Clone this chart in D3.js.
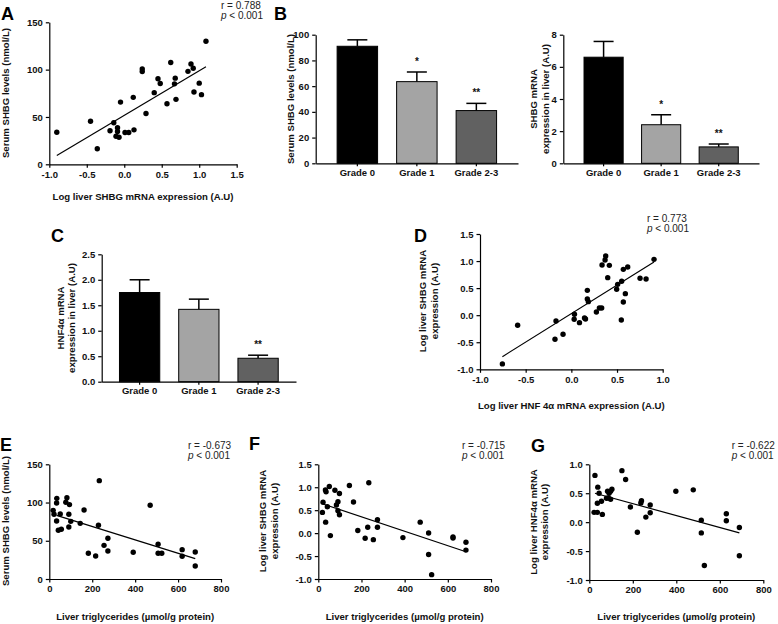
<!DOCTYPE html>
<html>
<head>
<meta charset="utf-8">
<script src="https://cdn.jsdelivr.net/npm/d3@7"></script>
<style>
 body { margin: 0; background: #fff; }
 svg { display: block; font-family: 'Liberation Sans', Arial, sans-serif; }
 .axis path, .axis line { stroke: #000; stroke-width: 1.2; }
 .axis text { font-size: 9.5px; font-weight: bold; fill: #111; }
 .title { font-size: 9.6px; font-weight: bold; fill: #111; }
 .letter { font-size: 18px; font-weight: bold; fill: #000; }
 .stat { font-size: 10px; fill: #222; }
</style>
</head>
<body>
<svg id="fig" width="778" height="624"></svg>
<script>
// ---- data ----
var gradeNames = ['Grade 0', 'Grade 1', 'Grade 2-3'];
var gradeColors = ['#000000', '#a4a4a4', '#616161'];

// B left: serum SHBG by grade
var serumShbgMean = [91, 63.5, 41];
var serumShbgErr = [5, 7.5, 5.6];
var serumShbgStars = ['', '*', '**'];
// B right: liver SHBG mRNA by grade
var shbgMrnaMean = [6.6, 2.4, 1.02];
var shbgMrnaErr = [0.98, 0.62, 0.18];
var shbgMrnaStars = ['', '*', '**'];
// C: liver HNF4a mRNA by grade
var hnfMrnaMean = [1.75, 1.42, 0.46];
var hnfMrnaErr = [0.25, 0.2, 0.06];
var hnfMrnaStars = ['', '', '**'];

// A: log liver SHBG mRNA vs serum SHBG
var pointsA = [[-0.90,33.9],[-0.45,45.4],[-0.36,16.4],[-0.19,35.4],[-0.14,43.9],[-0.09,38.6],[-0.09,34.6],[-0.11,29.6],
 [-0.07,28.6],[-0.05,65.7],[0.01,33.6],[0.06,33.6],[0.13,36.4],[0.12,70.7],[0.24,100.7],[0.24,97.9],[0.29,53.6],
 [0.40,75.7],[0.45,90.4],[0.48,85.4],[0.57,63.9],[0.62,107.5],[0.67,85],[0.68,91],[0.69,68.6],[0.85,98.2],
 [0.89,106],[0.92,101.4],[0.93,76.4],[1.00,85.7],[1.03,73.6],[1.09,130]];
var fitA = [[-0.90,9.4],[1.09,103]];
// D: log liver HNF4a mRNA vs log liver SHBG mRNA
var pointsD = [[-0.755,-0.90],[-0.588,-0.187],[-0.168,-0.107],[-0.179,-0.446],[-0.091,-0.353],[0.034,0.016],
 [0.031,-0.076],[0.089,-0.138],[0.144,-0.052],[0.155,-0.070],[0.175,0.459],[0.175,0.299],[0.186,0.25],
 [0.274,0.059],[0.307,0.133],[0.332,0.133],[0.336,0.927],[0.369,1.02],[0.376,1.094],[0.398,0.693],[0.416,0.921],
 [0.496,0.478],[0.507,0.570],[0.551,0.626],[0.547,-0.089],[0.569,0.847],[0.569,0.244],[0.591,0.398],
 [0.617,0.890],[0.752,0.681],[0.818,0.669],[0.905,1.032]];
var fitD = [[-0.755,-0.766],[0.905,0.983]];
// E: liver triglycerides vs serum SHBG
var pointsE = [[18,89.8],[22,84.6],[34,75.9],[35,105.5],[34,99.4],[42,63.7],[51,85],[56,65],[77,100.3],[82,106.4],
 [91,84.6],[91,68],[94,97.3],[100,75.4],[144,72.8],[162,90.3],[182,33.6],[216,30.1],[229,70.2],[233,128.6],
 [255,44],[273,53.2],[273,36.6],[391,34.9],[470,96.4],[507,45.4],[507,33.6],[524,33.6],[619,38.4],[619,29.7],
 [680,35.3],[680,17]];
var fitE = [[34,83.3],[680,26.6]];
// F: liver triglycerides vs log liver SHBG mRNA
var pointsF = [[19,0.452],[22,0.672],[34,0.239],[33,0.94],[36,0.9],[42,0.576],[51,1.016],[56,-0.054],[77,0.935],
 [84,0.613],[91,0.686],[91,0.488],[98,0.862],[98,0.4],[144,1.038],[163,0.679],[183,0.056],[217,-0.113],
 [229,0.129],[234,1.097],[255,-0.142],[274,0.29],[274,0.129],[392,-0.098],[472,0.239],[511,0.004],[511,-0.465],
 [525,-0.905],[624,-0.083],[624,-0.105],[684,-0.2],[684,-0.37]];
var fitF = [[22,0.635],[684,-0.406]];
// G: liver triglycerides vs log liver HNF4a mRNA
var pointsG = [[22,0.169],[26,0.808],[37,0.326],[37,0.169],[39,0.605],[45,0.5],[56,0.36],[60,0.134],[79,0.413],
 [84,0.535],[88,0.419],[91,0.5],[98,0.395],[98,0.535],[104,0.57],[150,0.89],[167,0.738],[189,0.262],
 [221,-0.174],[237,0.331],[240,0.372],[260,0.087],[280,0.297],[280,0.163],[398,0.535],[478,0.558],[515,0.035],
 [515,-0.186],[529,-0.75],[630,0.145],[630,0.023],[690,-0.093],[690,-0.581]];
var fitG = [[26,0.5],[690,-0.186]];

var svg = d3.select('#fig');
svg.append('rect').attr('width', 778).attr('height', 624).attr('fill', '#fff');

var fix1 = function(d){ return d.toFixed(1); };
var int0 = function(d){ return String(d); };

// rotated (two-line) y axis title, lines given left to right
function yTitle(lines, xs, cy)
{
 lines.forEach(function(t, i){
  svg.append('text').attr('class', 'title')
   .attr('transform', 'translate(' + xs[i] + ',' + cy + ') rotate(-90)')
   .attr('text-anchor', 'middle').text(t);
 });
}

function statText(r, x, y)
{
 svg.append('text').attr('class', 'stat').attr('x', x).attr('y', y).text('r = ' + r);
 var p = svg.append('text').attr('class', 'stat').attr('x', x).attr('y', y + 10);
 p.append('tspan').attr('font-style', 'italic').text('p');
 p.append('tspan').text(' < 0.001');
}

function letter(t, x, y)
{
 svg.append('text').attr('class', 'letter').attr('x', x).attr('y', y).text(t);
}

function scatter(c)
{
 var x = d3.scaleLinear().domain(c.xDomain).range([c.left, c.right]);
 var y = d3.scaleLinear().domain(c.yDomain).range([c.bottom, c.top]);
 svg.append('g').attr('class', 'axis').attr('transform', 'translate(0,' + c.bottom + ')')
  .call(d3.axisBottom(x).tickValues(c.xTicks).tickFormat(c.xFmt).tickSize(3.5).tickSizeOuter(0));
 svg.append('g').attr('class', 'axis').attr('transform', 'translate(' + c.left + ',0)')
  .call(d3.axisLeft(y).tickValues(c.yTicks).tickFormat(c.yFmt).tickSize(3.5).tickSizeOuter(0));
 svg.append('g').selectAll('circle').data(c.points).enter().append('circle')
  .attr('cx', function(d){ return x(d[0]); })
  .attr('cy', function(d){ return y(d[1]); })
  .attr('r', 2.7).attr('fill', '#000');
 svg.append('path').datum(c.fit)
  .attr('d', d3.line().x(function(d){ return x(d[0]); }).y(function(d){ return y(d[1]); }))
  .attr('stroke', '#000').attr('stroke-width', 1.2).attr('fill', 'none');
 svg.append('text').attr('class', 'title').attr('text-anchor', 'middle')
  .attr('x', (c.left + c.right) / 2).attr('y', c.xTitleY).text(c.xTitle);
}

function bars(c)
{
 var x = d3.scaleBand().domain(gradeNames).range([c.left, c.right]).paddingInner(0.32).paddingOuter(c.outer);
 var y = d3.scaleLinear().domain(c.yDomain).range([c.bottom, c.top]);
 var g = svg.append('g');
 c.mean.forEach(function(m, i){
  var cx = x(gradeNames[i]) + x.bandwidth() / 2;
  var top = y(m + c.err[i]);
  g.append('line').attr('x1', cx).attr('x2', cx).attr('y1', y(m)).attr('y2', top)
   .attr('stroke', '#000').attr('stroke-width', 1.5);
  g.append('line').attr('x1', cx - 10).attr('x2', cx + 10).attr('y1', top).attr('y2', top)
   .attr('stroke', '#000').attr('stroke-width', 1.5);
  g.append('rect').attr('x', x(gradeNames[i])).attr('width', x.bandwidth())
   .attr('y', y(m)).attr('height', c.bottom - y(m))
   .attr('fill', gradeColors[i]).attr('stroke', '#000').attr('stroke-width', 1);
  if(c.stars[i])
  {
   g.append('text').attr('x', cx).attr('y', top - 7).attr('text-anchor', 'middle')
    .attr('font-size', '10px').attr('font-weight', 'bold').attr('fill', '#111').text(c.stars[i]);
  }
 });
 svg.append('g').attr('class', 'axis').attr('transform', 'translate(0,' + c.bottom + ')')
  .call(d3.axisBottom(x).tickSize(3).tickSizeOuter(0));
 svg.append('g').attr('class', 'axis').attr('transform', 'translate(' + c.left + ',0)')
  .call(d3.axisLeft(y).tickValues(c.yTicks).tickFormat(c.yFmt).tickSize(3.5).tickSizeOuter(0));
}

// ---- panel A ----
letter('A', 1, 20);
scatter({xDomain: [-1, 1.5], yDomain: [0, 150], left: 49.3, right: 236.7, top: 22.3, bottom: 164.3,
 xTicks: [-1, -0.5, 0, 0.5, 1, 1.5], xFmt: fix1, yTicks: [0, 50, 100, 150], yFmt: int0,
 points: pointsA, fit: fitA, xTitle: 'Log liver SHBG mRNA expression (A.U)', xTitleY: 200});
yTitle(['Serum SHBG levels (nmol/L)'], [8.5], 93);
statText('0.788', 221, 8.5);

// ---- panel B ----
letter('B', 274, 20);
bars({left: 315.7, right: 518, top: 34.7, bottom: 163.3, outer: 0.36, yDomain: [0, 100],
 yTicks: [0, 20, 40, 60, 80, 100], yFmt: int0, mean: serumShbgMean, err: serumShbgErr, stars: serumShbgStars});
yTitle(['Serum SHBG levels (nmol/L)'], [293.5], 99);
bars({left: 563.3, right: 759, top: 34.7, bottom: 163.3, outer: 0.36, yDomain: [0, 8],
 yTicks: [0, 2, 4, 6, 8], yFmt: int0, mean: shbgMrnaMean, err: shbgMrnaErr, stars: shbgMrnaStars});
yTitle(['SHBG mRNA', 'expression in liver (A.U)'], [536.8, 548.5], 99);

// ---- panel C ----
letter('C', 51, 241.7);
bars({left: 101.7, right: 296, top: 254.3, bottom: 381.7, outer: 0.3, yDomain: [0, 2.5],
 yTicks: [0, 0.5, 1, 1.5, 2, 2.5], yFmt: fix1, mean: hnfMrnaMean, err: hnfMrnaErr, stars: hnfMrnaStars});
yTitle(['HNF4\u03b1 mRNA', 'expression in liver (A.U)'], [63.5, 75], 318);

// ---- panel D ----
letter('D', 414, 241.7);
scatter({xDomain: [-1, 1], yDomain: [-1, 1.5], left: 480, right: 662.7, top: 234, bottom: 369.3,
 xTicks: [-1, -0.5, 0, 0.5, 1], xFmt: fix1, yTicks: [-1, -0.5, 0, 0.5, 1, 1.5], yFmt: fix1,
 points: pointsD, fit: fitD, xTitle: 'Log liver HNF 4\u03b1 mRNA expression (A.U)', xTitleY: 409});
yTitle(['Log liver SHBG mRNA', 'expression (A.U)'], [426, 437.5], 301);
statText('0.773', 647, 222);

// ---- panels E, F, G ----
var tgTitle = 'Liver triglycerides (\u00b5mol/g protein)';
letter('E', 0, 450.7);
scatter({xDomain: [0, 800], yDomain: [0, 150], left: 49.3, right: 221, top: 464.3, bottom: 579,
 xTicks: [0, 200, 400, 600, 800], xFmt: int0, yTicks: [0, 50, 100, 150], yFmt: int0,
 points: pointsE, fit: fitE, xTitle: tgTitle, xTitleY: 620});
yTitle(['Serum SHBG levels (nmol/L)'], [8.5], 521);
statText('-0.673', 188, 448.5);

letter('F', 249, 450);
scatter({xDomain: [0, 800], yDomain: [-1, 1.5], left: 318.3, right: 491, top: 464.3, bottom: 579,
 xTicks: [0, 200, 400, 600, 800], xFmt: int0, yTicks: [-1, -0.5, 0, 0.5, 1, 1.5], yFmt: fix1,
 points: pointsF, fit: fitF, xTitle: tgTitle, xTitleY: 620});
yTitle(['Log liver SHBG mRNA', 'expression (A.U)'], [266, 277.5], 521);
statText('-0.715', 462, 448.5);

letter('G', 531, 451.7);
scatter({xDomain: [0, 800], yDomain: [-1, 1], left: 589.3, right: 763.3, top: 464.3, bottom: 580,
 xTicks: [0, 200, 400, 600, 800], xFmt: int0, yTicks: [-1, -0.5, 0, 0.5, 1], yFmt: fix1,
 points: pointsG, fit: fitG, xTitle: tgTitle, xTitleY: 620});
yTitle(['Log liver HNF4\u03b1 mRNA', 'expression (A.U)'], [536.5, 548], 522);
statText('-0.622', 731.7, 448.5);
</script>
</body>
</html>
